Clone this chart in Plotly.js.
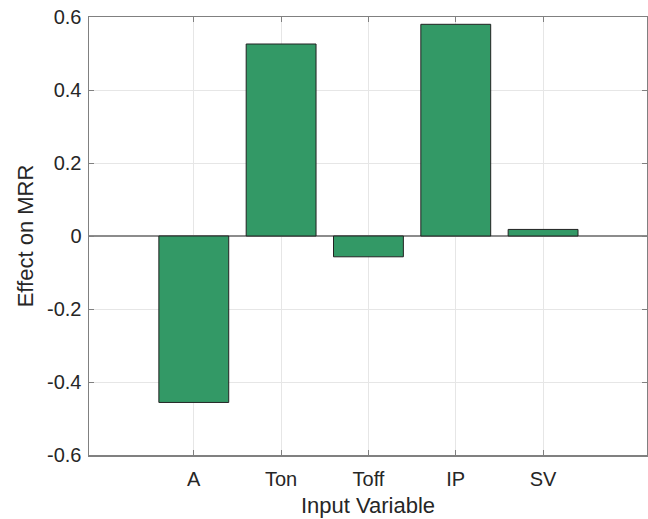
<!DOCTYPE html>
<html>
<head>
<meta charset="utf-8">
<script src="https://cdn.plot.ly/plotly-3.0.1.min.js"></script>
<style>
html,body{margin:0;padding:0;background:#fff;}
#chart{width:648px;height:519px;}
</style>
</head>
<body>
<div id="chart"></div>
<script>
const categories = ["A", "Ton", "Toff", "IP", "SV"];
const effects = [-0.456, 0.526, -0.057, 0.580, 0.018];
const yTicks = [-0.6, -0.4, -0.2, 0, 0.2, 0.4, 0.6];
const yTickLabels = ["-0.6", "-0.4", "-0.2", "0", "0.2", "0.4", "0.6"];

const trace = {
  type: "bar",
  x: categories,
  y: effects,
  width: 0.8,
  marker: {color: "#339966", line: {color: "#222222", width: 1}},
  hoverinfo: "x+y"
};

const layout = {
  width: 648,
  height: 519,
  margin: {l: 89, r: 1, t: 17, b: 64},
  paper_bgcolor: "#ffffff",
  plot_bgcolor: "#ffffff",
  showlegend: false,
  font: {family: "Liberation Sans, Arial, sans-serif", color: "#262626", size: 20},
  xaxis: {
    type: "category",
    categoryorder: "array",
    categoryarray: categories,
    range: [-1.2, 5.19],
    showline: true, linecolor: "#808080", linewidth: 1.5, mirror: "ticks",
    ticks: "inside", ticklen: 5, tickcolor: "#808080",
    showgrid: true, gridcolor: "#e6e6e6", gridwidth: 1,
    tickfont: {size: 20, color: "#262626"},
    ticklabelstandoff: 5,
    title: {text: "Input Variable", font: {size: 22, color: "#262626"}, standoff: 9},
    zeroline: false,
    automargin: false,
    fixedrange: true
  },
  yaxis: {
    range: [-0.6, 0.6],
    tickvals: yTicks,
    ticktext: yTickLabels,
    showline: true, linecolor: "#808080", linewidth: 1.5, mirror: "ticks",
    ticks: "inside", ticklen: 5, tickcolor: "#808080",
    showgrid: true, gridcolor: "#e6e6e6", gridwidth: 1,
    zeroline: true, zerolinecolor: "#8c8c8c", zerolinewidth: 1.2,
    tickfont: {size: 20, color: "#262626"},
    ticklabelstandoff: 2,
    title: {text: "Effect on MRR", font: {size: 22, color: "#262626"}, standoff: 7},
    automargin: false,
    fixedrange: true
  }
};

Plotly.newPlot("chart", [trace], layout, {displayModeBar: false, staticPlot: true});
</script>
</body>
</html>
